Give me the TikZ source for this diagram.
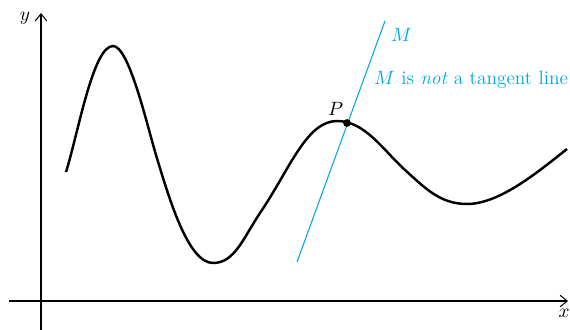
\documentclass[tikz,border=0pt]{standalone}
\usepackage{xcolor}
\usetikzlibrary{arrows.meta}
\definecolor{lineblue}{RGB}{0,166,226}
\begin{document}
\begin{tikzpicture}[>={Straight Barb[length=4pt,width=6.5pt]}, x=0.02cm, y=-0.02cm,
    axis/.style={->, line width=0.6pt},
    graph/.style={line width=1.4pt},
    secant/.style={lineblue, line width=0.6pt},
    lbl/.style={font=\fontsize{11}{13}\selectfont}]

  \useasboundingbox (0,0) rectangle (570,330);

  % Axes.
  \coordinate (xs) at (9,301);
  \coordinate (xe) at (568,301);
  \coordinate (ys) at (41,330);
  \coordinate (ye) at (41,13);
  \draw[axis] (xs) -- (xe);
  \draw[axis] (ys) -- (ye);
  \node[lbl] (xlab) at (564,313) {$x$};
  \node[lbl] (ylab) at (25,18) {$y$};

  % La courbe : maxima, minima et points d'inflexion.
  \draw[graph] (66,172) .. controls (78,134) and (93,46) .. (113,46)
                        .. controls (129,46) and (147,125) .. (156,155)
                        .. controls (169,198) and (188,263) .. (213,263)
                        .. controls (235,263) and (243,238) .. (262,210)
                        .. controls (290,168) and (307,121) .. (337,121)
                        .. controls (365,121) and (383,150) .. (405,170)
                        .. controls (425,188) and (440,204) .. (467,204)
                        .. controls (500,204) and (539,171) .. (567,149);

  % La droite M, qui coupe la courbe en P.
  \coordinate (m1) at (297,262);
  \coordinate (m2) at (385,21);
  \draw[secant] (m1) -- (m2);
  \fill (347,123) circle (2.2pt) coordinate (P);
  \node[lbl, anchor=south east, inner sep=1pt] (plab) at ([xshift=-1pt,yshift=3pt]P) {$P$};
  \node[lbl, lineblue, anchor=west] (mlab) at (385,35) {$M$};
  \node[lbl, lineblue, anchor=west] (note) at (368,80) {$M$ is \textit{not} a tangent line};

\end{tikzpicture}
\end{document}
